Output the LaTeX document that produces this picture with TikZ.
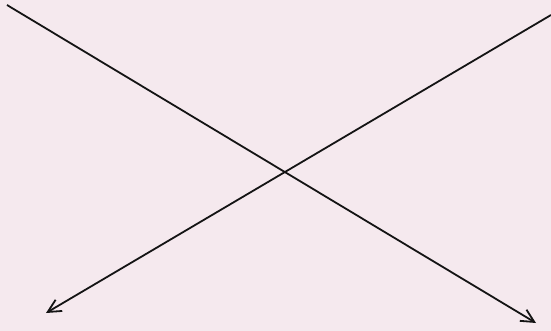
\documentclass[tikz,border=0pt]{standalone}
\usetikzlibrary{arrows.meta}
\definecolor{paper}{HTML}{F5E9EE}
\begin{document}
\begin{tikzpicture}[x=1pt,y=-1pt,
  arrowline/.style={line width=1.8pt,draw={black!92},-{Straight Barb[length=13pt,width=13pt,line width=1.8pt]}}]
\fill[paper] (0,0) rectangle (551,331);
\useasboundingbox (0,0) rectangle (551,331);
\coordinate (a1) at (7,5);
\coordinate (b1) at (536,323);
\coordinate (a2) at (551,15);
\coordinate (b2) at (46,313);
\draw[arrowline] (a1) -- (b1);
\draw[arrowline] (a2) -- (b2);
\end{tikzpicture}
\end{document}
